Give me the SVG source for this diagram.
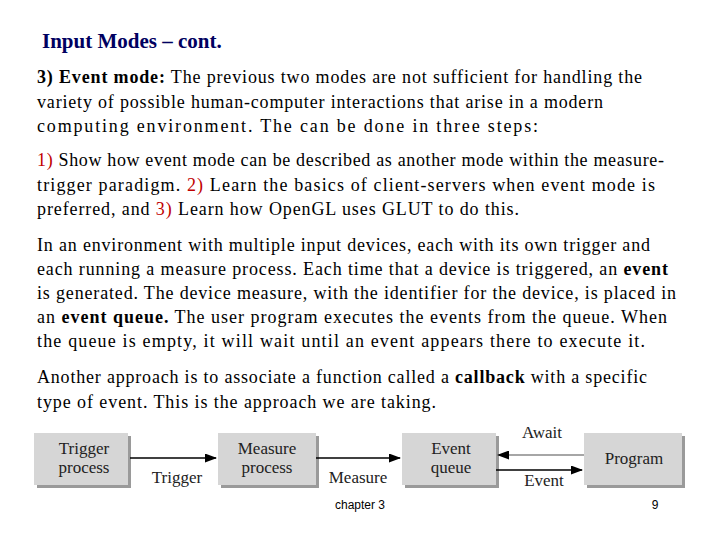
<svg xmlns="http://www.w3.org/2000/svg" width="720" height="540" viewBox="0 0 720 540">
<style>
.t{font-family:"Liberation Serif",serif;font-size:18px;fill:#000}
.r{fill:#c00000}
.b{fill:#d6d6d6}
.s{fill:#9a9a9a}
.l{font-family:"Liberation Serif",serif;font-size:17px;fill:#222;text-anchor:middle}
</style>
<defs><marker id="a" markerWidth="12" markerHeight="9" refX="11" refY="4.5" orient="auto" markerUnits="userSpaceOnUse"><path d="M0,0L12,4.5L0,9z" fill="#000"/></marker></defs>
<rect width="720" height="540" fill="#fff"/>
<text x="42" y="48" font-family="Liberation Serif,serif" font-size="21" font-weight="bold" fill="#000060">Input Modes – cont.</text>
<text class="t" x="37" y="83" textLength="605" lengthAdjust="spacing"><tspan font-weight="bold">3) Event mode:</tspan> The previous two modes are not sufficient for handling the</text>
<text class="t" x="37" y="108" textLength="566" lengthAdjust="spacing">variety of possible human-computer interactions that arise in a modern</text>
<text class="t" x="37" y="132" textLength="501" lengthAdjust="spacing">computing environment.  The can be done in three steps:</text>
<text class="t" x="37" y="166" textLength="627" lengthAdjust="spacing"><tspan class="r">1)</tspan> Show how event mode can be described as another mode within the measure-</text>
<text class="t" x="37" y="191" textLength="618" lengthAdjust="spacing">trigger paradigm. <tspan class="r">2)</tspan> Learn the basics of client-servers when event mode is</text>
<text class="t" x="37" y="215" textLength="482" lengthAdjust="spacing">preferred, and <tspan class="r">3)</tspan> Learn how OpenGL uses GLUT to do this.</text>
<text class="t" x="37" y="251" textLength="613" lengthAdjust="spacing">In an environment with multiple input devices, each with its own trigger and</text>
<text class="t" x="37" y="275" textLength="631" lengthAdjust="spacing">each running a measure process.  Each time that a device is triggered, an <tspan font-weight="bold">event</tspan></text>
<text class="t" x="37" y="299" textLength="639" lengthAdjust="spacing">is generated.  The device measure, with the identifier for the device, is placed in</text>
<text class="t" x="37" y="323" textLength="630" lengthAdjust="spacing">an <tspan font-weight="bold">event queue.</tspan>  The user program executes the events from the queue.  When</text>
<text class="t" x="37" y="347" textLength="608" lengthAdjust="spacing">the queue is empty, it will wait until an event appears there to execute it.</text>
<text class="t" x="37" y="383" textLength="610" lengthAdjust="spacing">Another approach is to associate a function called a <tspan font-weight="bold">callback</tspan> with a specific</text>
<text class="t" x="37" y="408" textLength="399" lengthAdjust="spacing">type of event.  This is the approach we are taking.</text>
<g id="trigger"><rect class="s" x="37" y="436" width="94" height="52"/><rect class="b" x="34" y="433" width="94" height="52"/><text class="l" x="84" y="454">Trigger</text><text class="l" x="84" y="473">process</text></g>
<g id="measure"><rect class="s" x="221" y="436" width="98" height="52"/><rect class="b" x="218" y="433" width="98" height="52"/><text class="l" x="267" y="454">Measure</text><text class="l" x="267" y="473">process</text></g>
<g id="queue"><rect class="s" x="405" y="436" width="94" height="52"/><rect class="b" x="402" y="433" width="94" height="52"/><text class="l" x="451" y="454">Event</text><text class="l" x="451" y="473">queue</text></g>
<g id="program"><rect class="s" x="587" y="436" width="98" height="52"/><rect class="b" x="584" y="433" width="98" height="52"/><text class="l" x="634" y="464">Program</text></g>
<g id="connectors" stroke="#000" stroke-width="1.5" fill="none">
<line x1="130" y1="458" x2="216" y2="458" marker-end="url(#a)"/>
<line x1="316" y1="458" x2="400" y2="458" marker-end="url(#a)"/>
<line x1="584" y1="455" x2="498" y2="455" stroke="#888" marker-end="url(#a)"/>
<line x1="496" y1="470" x2="582" y2="470" marker-end="url(#a)"/>
</g>
<text class="l" x="177" y="483">Trigger</text>
<text class="l" x="358" y="483">Measure</text>
<text class="l" x="542" y="438">Await</text>
<text class="l" x="544" y="486">Event</text>
<text x="360" y="509" font-family="Liberation Sans,sans-serif" font-size="12" text-anchor="middle">chapter 3</text>
<text x="655" y="509" font-family="Liberation Sans,sans-serif" font-size="12" text-anchor="middle">9</text>
</svg>
